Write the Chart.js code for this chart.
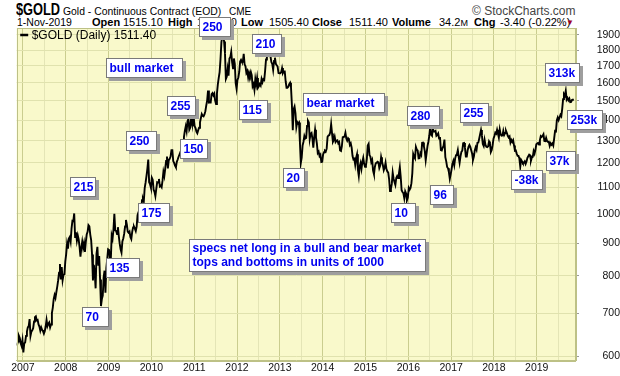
<!DOCTYPE html>
<html><head><meta charset="utf-8">
<script src="https://cdn.jsdelivr.net/npm/chart.js@4.4.1/dist/chart.umd.min.js"></script>
<style>
html,body{margin:0;padding:0;background:#fff;}
#wrap{position:relative;width:620px;height:376px;overflow:hidden;font-family:'Liberation Sans',Arial,sans-serif;color:#000;}
.h{position:absolute;white-space:nowrap;line-height:1;}
.b{font-weight:bold;}
#c{position:absolute;left:0;top:0;z-index:2;}
</style></head>
<body><div id="wrap">
<div class="h b" style="left:16px;top:2px;font-size:16px;transform:scaleX(0.8);transform-origin:left top;">$GOLD</div>
<div class="h" style="left:63px;top:6.5px;font-size:10.4px;">Gold - Continuous Contract (EOD)</div>
<div class="h" style="left:229px;top:7px;font-size:10px;">CME</div>
<div class="h" style="left:472px;top:5px;font-size:12px;color:#444;">&copy; StockCharts.com</div>
<div class="h" style="left:17px;top:17px;font-size:10.5px;">1-Nov-2019</div>
<div class="h b" style="left:92px;top:17px;font-size:11px;">Open</div>
<div class="h" style="left:123px;top:17px;font-size:11px;">1515.10</div>
<div class="h b" style="left:168px;top:17px;font-size:11px;">High</div>
<div class="h" style="left:197px;top:17px;font-size:11px;">1518.60</div>
<div class="h b" style="left:241px;top:17px;font-size:11px;">Low</div>
<div class="h" style="left:269px;top:17px;font-size:11px;">1505.40</div>
<div class="h b" style="left:312px;top:17px;font-size:11px;">Close</div>
<div class="h" style="left:349px;top:17px;font-size:11px;">1511.40</div>
<div class="h b" style="left:392px;top:17px;font-size:11px;">Volume</div>
<div class="h" style="left:439px;top:17px;font-size:11px;">34.2<span style="font-size:9px;">M</span></div>
<div class="h b" style="left:474px;top:17px;font-size:11px;">Chg</div>
<div class="h" style="left:500px;top:17px;font-size:11px;">-3.40 (-0.22%)</div>
<div class="h" style="left:566px;top:19px;font-size:8px;color:#a0002a;">&#9660;</div>
<canvas id="c" width="620" height="376"></canvas>
</div>
<script>
// ---- data (weekly-ish closes, 4 per month) ----
const gold2006 = [628, 625, 632, 645, 640, 628, 622, 635]; // Nov-Dec
const gold2007 = [608, 628, 630, 645, 655, 665, 668, 685, 645, 655, 658, 663, 679, 690, 692, 682, 683, 672, 667, 657, 665, 659, 656, 650, 656, 667, 683, 668, 674, 677, 665, 672, 700, 714, 736, 747, 739, 755, 770, 787, 809, 835, 790, 826, 788, 803, 805, 842];
const gold2008 = [865, 898, 882, 915, 920, 905, 948, 975, 974, 1001, 920, 935, 908, 925, 912, 888, 857, 885, 905, 885, 900, 872, 904, 928, 937, 960, 956, 928, 910, 864, 787, 832, 808, 765, 866, 888, 830, 859, 790, 718, 736, 745, 796, 815, 753, 823, 850, 880];
const gold2009 = [878, 853, 845, 925, 914, 944, 1000, 942, 940, 930, 953, 922, 898, 880, 870, 905, 915, 930, 955, 978, 962, 938, 934, 938, 920, 913, 937, 952, 955, 948, 940, 955, 995, 1005, 1012, 990, 1004, 1050, 1055, 1045, 1096, 1118, 1145, 1175, 1215, 1120, 1112, 1098];
const gold2010 = [1138, 1130, 1090, 1082, 1065, 1093, 1120, 1118, 1133, 1103, 1106, 1100, 1126, 1162, 1145, 1175, 1209, 1228, 1177, 1212, 1218, 1228, 1256, 1256, 1208, 1200, 1188, 1181, 1205, 1215, 1227, 1237, 1247, 1246, 1275, 1296, 1317, 1346, 1368, 1345, 1394, 1405, 1352, 1362, 1406, 1384, 1378, 1410];
const gold2011 = [1369, 1360, 1343, 1335, 1350, 1362, 1388, 1410, 1430, 1421, 1418, 1428, 1445, 1474, 1500, 1556, 1491, 1492, 1491, 1536, 1542, 1529, 1539, 1501, 1483, 1541, 1591, 1628, 1663, 1742, 1852, 1890, 1895, 1856, 1780, 1622, 1635, 1682, 1642, 1746, 1755, 1788, 1724, 1685, 1746, 1713, 1598, 1566];
const gold2012 = [1617, 1631, 1665, 1727, 1737, 1725, 1725, 1776, 1710, 1698, 1658, 1669, 1631, 1659, 1642, 1663, 1644, 1580, 1592, 1560, 1622, 1590, 1628, 1572, 1580, 1593, 1584, 1622, 1604, 1621, 1616, 1672, 1740, 1772, 1773, 1776, 1781, 1760, 1724, 1712, 1676, 1731, 1751, 1713, 1704, 1696, 1657, 1656];
const gold2013 = [1656, 1662, 1687, 1657, 1667, 1667, 1609, 1572, 1572, 1577, 1592, 1600, 1575, 1480, 1350, 1455, 1469, 1435, 1365, 1390, 1383, 1388, 1292, 1200, 1223, 1277, 1295, 1322, 1310, 1313, 1371, 1396, 1387, 1308, 1333, 1337, 1310, 1268, 1315, 1352, 1315, 1287, 1244, 1250, 1230, 1236, 1204, 1205];
const gold2014 = [1237, 1247, 1254, 1250, 1263, 1318, 1324, 1326, 1339, 1379, 1334, 1294, 1302, 1318, 1294, 1300, 1302, 1288, 1293, 1255, 1253, 1274, 1316, 1317, 1320, 1337, 1310, 1300, 1311, 1305, 1280, 1287, 1268, 1230, 1215, 1218, 1192, 1222, 1238, 1171, 1145, 1185, 1200, 1175, 1204, 1222, 1196, 1184];
const gold2015 = [1189, 1216, 1277, 1285, 1234, 1228, 1204, 1213, 1167, 1152, 1183, 1199, 1200, 1205, 1203, 1178, 1189, 1225, 1205, 1190, 1169, 1180, 1201, 1174, 1164, 1159, 1131, 1085, 1094, 1113, 1159, 1134, 1121, 1109, 1137, 1145, 1137, 1156, 1182, 1141, 1088, 1081, 1076, 1057, 1084, 1075, 1050, 1060];
const gold2016 = [1097, 1090, 1097, 1116, 1157, 1239, 1227, 1220, 1271, 1259, 1255, 1220, 1221, 1243, 1235, 1290, 1291, 1273, 1252, 1212, 1243, 1275, 1295, 1322, 1366, 1328, 1323, 1357, 1344, 1343, 1346, 1323, 1327, 1334, 1310, 1317, 1257, 1255, 1267, 1276, 1305, 1225, 1207, 1183, 1177, 1161, 1134, 1152];
const gold2017 = [1173, 1197, 1209, 1190, 1220, 1234, 1239, 1257, 1226, 1201, 1229, 1249, 1254, 1288, 1289, 1268, 1228, 1228, 1256, 1271, 1280, 1271, 1256, 1242, 1213, 1228, 1255, 1269, 1258, 1290, 1291, 1310, 1330, 1351, 1325, 1284, 1275, 1304, 1280, 1272, 1270, 1274, 1296, 1288, 1248, 1257, 1279, 1309];
const gold2018 = [1322, 1338, 1333, 1352, 1333, 1315, 1353, 1330, 1323, 1324, 1347, 1327, 1336, 1347, 1336, 1323, 1315, 1320, 1291, 1303, 1294, 1302, 1278, 1254, 1255, 1241, 1231, 1231, 1219, 1184, 1213, 1206, 1199, 1201, 1207, 1196, 1206, 1222, 1229, 1236, 1233, 1210, 1224, 1226, 1252, 1241, 1258, 1283];
const gold2019 = [1287, 1290, 1282, 1303, 1322, 1318, 1322, 1330, 1299, 1298, 1313, 1298, 1295, 1295, 1276, 1288, 1281, 1287, 1277, 1311, 1346, 1344, 1399, 1413, 1400, 1413, 1426, 1419, 1457, 1509, 1537, 1529, 1555, 1506, 1515, 1503, 1512, 1493, 1494, 1505, 1511.4];

const yearLabels = [2007, 2008, 2009, 2010, 2011, 2012, 2013, 2014, 2015, 2016, 2017, 2018, 2019];
const priceTicks = [600, 700, 800, 900, 1000, 1100, 1200, 1300, 1400, 1500, 1600, 1700, 1800, 1900];
const seriesLabel = '$GOLD (Daily) 1511.40';

// [year, first month index, values]
const yearTable = [
  [2006, 10, gold2006], [2007, 0, gold2007], [2008, 0, gold2008], [2009, 0, gold2009],
  [2010, 0, gold2010], [2011, 0, gold2011], [2012, 0, gold2012], [2013, 0, gold2013],
  [2014, 0, gold2014], [2015, 0, gold2015], [2016, 0, gold2016], [2017, 0, gold2017],
  [2018, 0, gold2018], [2019, 0, gold2019]
];
const points = [];
yearTable.forEach(([yr, m0, vals]) => {
  vals.forEach((v, i) => {
    const m = m0 + Math.floor(i / 4), k = i % 4;
    points.push({x: yr + (m + (k + 0.5) / 4) / 12, y: v});
  });
});

// annotation boxes: left edge (decimal year), top edge (price), width px
const notes = [
  {t: ['250'], x: 2011.119, p: 2026.5, w: 32.4},
  {t: ['210'], x: 2012.343, p: 1906.5, w: 30},
  {t: ['bull market'], x: 2008.94, p: 1750.9, w: 77.3},
  {t: ['255'], x: 2010.372, p: 1525.9, w: 28.7},
  {t: ['115'], x: 2012.054, p: 1504.3, w: 29},
  {t: ['250'], x: 2009.408, p: 1347.3, w: 31.3},
  {t: ['150'], x: 2010.669, p: 1306.2, w: 28.3},
  {t: ['20'], x: 2013.067, p: 1177.0, w: 22.3},
  {t: ['215'], x: 2008.10, p: 1139.8, w: 25.7},
  {t: ['175'], x: 2009.695, p: 1038.1, w: 31.7},
  {t: ['135'], x: 2008.933, p: 852.1, w: 34.3},
  {t: ['70'], x: 2008.373, p: 714.5, w: 26.6},
  {t: ['bear market'], x: 2013.534, p: 1544.2, w: 82.3},
  {t: ['280'], x: 2015.963, p: 1472.1, w: 32.6},
  {t: ['255'], x: 2017.208, p: 1486.5, w: 29},
  {t: ['313k'], x: 2019.181, p: 1716.2, w: 34.5},
  {t: ['253k'], x: 2019.699, p: 1451.3, w: 35.6},
  {t: ['37k'], x: 2019.216, p: 1254.7, w: 30},
  {t: ['-38k'], x: 2018.399, p: 1170.0, w: 32.3},
  {t: ['96'], x: 2016.507, p: 1108.6, w: 24},
  {t: ['10'], x: 2015.589, p: 1038.1, w: 24.8},
  {t: ['specs net long in a bull and bear market', 'tops and bottoms in units of 1000'], x: 2010.886, p: 913.2, w: 236.7, h: 33}
];

const FONT = "'Liberation Sans', Arial, sans-serif";
const xGridTicks = [];
yearLabels.forEach(y => { xGridTicks.push(y); xGridTicks.push(y + 0.5); });

const deco = {
  id: 'deco',
  beforeDraw(chart) {
    const {ctx, chartArea: a} = chart;
    ctx.save();
    ctx.fillStyle = '#F9F9CB';
    ctx.fillRect(a.left, a.top, a.right - a.left, a.bottom - a.top);
    ctx.restore();
  },
  afterDraw(chart) {
    const {ctx, chartArea: a, scales} = chart;
    ctx.save();
    ctx.strokeStyle = '#BDC186';
    ctx.lineWidth = 1;
    ctx.strokeRect(Math.round(a.left) + 0.5, Math.round(a.top) + 0.5, Math.round(a.right - a.left) - 1, Math.round(a.bottom - a.top));
    // legend
    ctx.strokeStyle = '#000';
    ctx.lineWidth = 2.5;
    ctx.beginPath(); ctx.moveTo(a.left + 3.5, a.top + 7); ctx.lineTo(a.left + 11.5, a.top + 7); ctx.stroke();
    ctx.fillStyle = '#000';
    ctx.font = '12px ' + FONT;
    ctx.textBaseline = 'middle';
    ctx.textAlign = 'left';
    ctx.fillText(chart.data.datasets[0].label, a.left + 15, a.top + 7.5);
    // annotation boxes
    ctx.font = 'bold 12px ' + FONT;
    notes.forEach(n => {
      const x0 = Math.round(scales.x.getPixelForValue(n.x));
      const y0 = Math.round(scales.y.getPixelForValue(n.p));
      const w = Math.round(n.w), h = Math.round(n.h || 19.5);
      ctx.fillStyle = '#9e9e9e';
      ctx.fillRect(x0 + 3, y0 + 3, w, h);
      ctx.fillStyle = '#fff';
      ctx.fillRect(x0, y0, w, h);
      ctx.strokeStyle = '#7a7a7a';
      ctx.lineWidth = 1;
      ctx.strokeRect(x0 + 0.5, y0 + 0.5, w - 1, h - 1);
      ctx.fillStyle = '#0000F0';
      if (n.t.length === 1) {
        ctx.fillText(n.t[0], x0 + 3.5, y0 + h / 2 + 0.5);
      } else {
        n.t.forEach((line, i) => ctx.fillText(line, x0 + 3.5, y0 + 9.5 + i * 14));
      }
    });
    ctx.restore();
  }
};

new Chart(document.getElementById('c'), {
  type: 'line',
  data: {datasets: [{
    label: seriesLabel,
    data: points,
    borderColor: '#000',
    borderWidth: 1.9,
    pointRadius: 0,
    tension: 0,
    fill: false
  }]},
  options: {
    responsive: false,
    animation: false,
    devicePixelRatio: 1,
    parsing: false,
    layout: {padding: {left: 16.7, top: 28, right: 0, bottom: 0}},
    plugins: {legend: {display: false}, tooltip: {enabled: false}},
    scales: {
      x: {
        type: 'linear',
        min: 2006.855,
        max: 2019.916,
        afterBuildTicks: s => { s.ticks = xGridTicks.map(v => ({value: v})); },
        afterFit: s => { s.height = 15.3; },
        ticks: {
          autoSkip: false, maxRotation: 0, padding: 1,
          font: {family: FONT, size: 10.5}, color: '#111',
          callback: v => (Number.isInteger(v) ? String(v) : '')
        },
        grid: {
          drawTicks: false,
          color: c => (c.tick && Number.isInteger(c.tick.value) ? '#CACD8F' : '#E4E5B6'),
          lineWidth: 1
        },
        border: {color: '#BDC186'}
      },
      y: {
        type: 'logarithmic',
        position: 'right',
        min: 590,
        max: 1948,
        afterBuildTicks: s => { s.ticks = priceTicks.map(v => ({value: v})); },
        afterFit: s => { s.width = 44; },
        ticks: {
          crossAlign: 'far', padding: 1,
          font: {family: FONT, size: 10.5}, color: '#111',
          callback: v => String(v)
        },
        grid: {color: '#E0E2AE', tickLength: 3, tickColor: '#9a9a9a', lineWidth: 1},
        border: {color: '#BDC186'}
      }
    }
  },
  plugins: [deco]
});
</script>
</body></html>
